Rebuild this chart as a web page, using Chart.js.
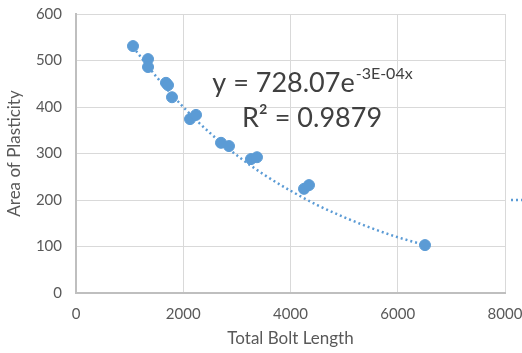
<!DOCTYPE html>
<html>
<head>
<meta charset="utf-8">
<script src="https://cdn.jsdelivr.net/npm/chart.js@4/dist/chart.umd.min.js"></script>
<style>
  html, body { margin: 0; padding: 0; background: #fff; }
  #wrap { width: 522px; height: 353px; }
</style>
</head>
<body>
<div id="wrap"><canvas id="chart"></canvas></div>
<script>
// measured points: total bolt length vs area of plasticity
const boltLength = [1063, 1343, 1343, 1678, 1716, 1790, 2126, 2238, 2704, 2853, 3263, 3375, 4252, 4345, 6508];
const plasticArea = [531, 503, 486, 452, 447, 421, 374, 383, 323, 316, 288, 292, 224, 232, 103];

// exponential trendline
const trendX = [1063, 1500, 2000, 2500, 3000, 3500, 4000, 4500, 5000, 5500, 6000, 6508];
const trendY = [529, 465, 400, 344, 296, 255, 220, 189, 163, 140, 120, 103];

const xTicks = [0, 2000, 4000, 6000, 8000];
const eqText = "y = 728.07e";
const eqExp = "-3E-04x";
const r2Text = "R\u00b2 = 0.9879";

const FONT = "Lato, 'Open Sans', sans-serif";

const overlay = {
  id: "overlay",
  afterDraw(chart) {
    const ctx = chart.ctx;
    ctx.save();
    ctx.fillStyle = "#404040";
    ctx.textBaseline = "alphabetic";
    ctx.font = "27px " + FONT;
    const w1 = ctx.measureText(eqText).width;
    ctx.font = "16px " + FONT;
    const w2 = ctx.measureText(eqExp).width;
    const cx = 312;
    let x0 = cx - (w1 + w2) / 2;
    ctx.font = "27px " + FONT;
    ctx.fillText(eqText, x0, 92);
    ctx.font = "16px " + FONT;
    ctx.fillText(eqExp, x0 + w1 + 1, 79);
    ctx.font = "27px " + FONT;
    ctx.textAlign = "center";
    ctx.fillText(r2Text, cx, 127);
    // clipped legend sample for the trendline
    ctx.strokeStyle = "#5b9bd5";
    ctx.lineWidth = 2.5;
    ctx.setLineDash([2, 3]);
    ctx.beginPath();
    ctx.moveTo(511, 200);
    ctx.lineTo(522, 200);
    ctx.stroke();
    ctx.restore();
  }
};

new Chart("chart", {
  type: "scatter",
  data: {
    datasets: [
      {
        label: "Trend",
        type: "line",
        data: trendX.map((x, i) => ({ x, y: trendY[i] })),
        borderColor: "#5b9bd5",
        borderWidth: 2.5,
        borderDash: [2, 3],
        pointRadius: 0,
        cubicInterpolationMode: "monotone",
        fill: false,
        order: 2
      },
      {
        label: "Area of Plasticity",
        data: boltLength.map((x, i) => ({ x, y: plasticArea[i] })),
        backgroundColor: "#5b9bd5",
        borderColor: "#5b9bd5",
        pointRadius: 5.5,
        pointHoverRadius: 5.5,
        order: 1
      }
    ]
  },
  options: {
    responsive: true,
    maintainAspectRatio: false,
    animation: false,
    layout: { padding: { top: 14, right: 17, left: 0, bottom: 0 } },
    plugins: {
      legend: { display: false },
      tooltip: { enabled: false }
    },
    scales: {
      x: {
        type: "linear",
        min: 0,
        max: 8000,
        afterBuildTicks: (s) => { s.ticks = xTicks.map((v) => ({ value: v })); },
        afterFit: (s) => { s.height = 60; s.paddingLeft = 0; s.paddingRight = 0; },
        grid: { color: "#d9d9d9", lineWidth: 1, drawTicks: false },
        border: { color: "#bfbfbf", width: 2 },
        ticks: {
          color: "#595959", font: { family: FONT, size: 15 }, padding: 12,
          callback: (v) => String(v)
        },
        title: {
          display: true,
          text: "Total Bolt Length",
          color: "#595959",
          font: { family: FONT, size: 17 },
          padding: { top: 5 }
        }
      },
      y: {
        min: 0,
        max: 600,
        afterFit: (s) => { s.width = 76; s.paddingTop = 0; s.paddingBottom = 0; },
        grid: { color: "#d9d9d9", lineWidth: 1, drawTicks: false },
        border: { color: "#bfbfbf", width: 2 },
        ticks: { stepSize: 100, color: "#595959", font: { family: FONT, size: 15 }, padding: 14 },
        title: {
          display: true,
          text: "Area of Plasticity",
          color: "#595959",
          font: { family: FONT, size: 17 },
          padding: { bottom: 0 }
        }
      }
    }
  },
  plugins: [overlay]
});
</script>
</body>
</html>
